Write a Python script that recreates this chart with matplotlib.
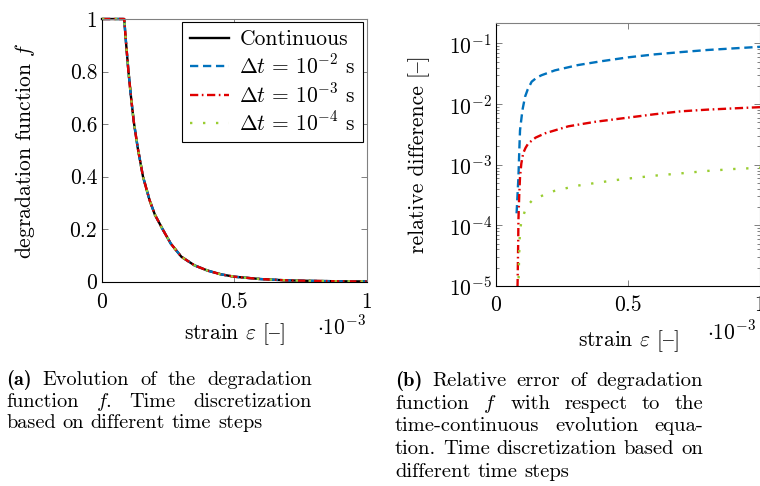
import numpy as np
import matplotlib
matplotlib.use("Agg")
import matplotlib.pyplot as plt
from matplotlib.ticker import LogLocator, NullFormatter

plt.rcParams['font.family'] = ['cmr10', 'DejaVu Serif']
plt.rcParams['mathtext.fontset'] = 'cm'
plt.rcParams['axes.formatter.use_mathtext'] = True

# strain in units of 1e-3
strain_f = [0.0, 0.084, 0.09, 0.10, 0.11, 0.12, 0.135, 0.155, 0.18, 0.20, 0.229,
            0.26, 0.30, 0.35, 0.40, 0.45, 0.50, 0.60, 0.70, 0.80, 0.90, 1.0]
f_cont = [1.0, 1.0, 0.92, 0.80, 0.70, 0.61, 0.51, 0.40, 0.31, 0.255, 0.20,
          0.145, 0.095, 0.062, 0.042, 0.028, 0.019, 0.010, 0.005, 0.003, 0.0015, 0.001]
# discrete solutions lie on top of the continuous one at this scale
f_dt2 = list(f_cont)
f_dt3 = list(f_cont)
f_dt4 = list(f_cont)

strain_dt2 = [0.078, 0.082, 0.085, 0.088, 0.091, 0.10, 0.11, 0.12, 0.135, 0.155,
              0.173, 0.223, 0.31, 0.40, 0.50, 0.60, 0.70, 0.80, 0.90, 1.0]
rel_dt2 = [1.58e-4, 3.5e-4, 6.3e-4, 1.6e-3, 3.7e-3, 7.9e-3, 1.32e-2, 1.74e-2, 2.34e-2, 2.75e-2,
           3.0e-2, 3.6e-2, 4.4e-2, 5.1e-2, 5.9e-2, 6.6e-2, 7.2e-2, 7.8e-2, 8.3e-2, 8.8e-2]

strain_dt3 = [0.080, 0.082, 0.084, 0.085, 0.088, 0.091, 0.096, 0.103, 0.112, 0.122,
              0.15, 0.186, 0.274, 0.375, 0.489, 0.60, 0.70, 0.80, 0.90, 1.0]
rel_dt3 = [5.0e-6, 1.26e-5, 5.0e-5, 1.23e-4, 3.16e-4, 6.3e-4, 1.05e-3, 1.55e-3, 1.9e-3, 2.24e-3,
           2.8e-3, 3.3e-3, 4.3e-3, 5.1e-3, 5.9e-3, 6.8e-3, 7.6e-3, 8.1e-3, 8.5e-3, 8.9e-3]

strain_dt4 = [0.083, 0.085, 0.087, 0.089, 0.091, 0.095, 0.101, 0.114, 0.141, 0.221,
              0.306, 0.39, 0.476, 0.60, 0.70, 0.80, 0.90, 1.0]
rel_dt4 = [5.0e-6, 1.0e-5, 2.4e-5, 5.0e-5, 8.3e-5, 1.07e-4, 1.32e-4, 2.0e-4, 2.7e-4, 3.7e-4,
           4.5e-4, 5.1e-4, 5.75e-4, 6.6e-4, 7.2e-4, 7.9e-4, 8.5e-4, 8.9e-4]

labels = ['Continuous', r'$\Delta t \,=\, 10^{-2}$ s', r'$\Delta t \,=\, 10^{-3}$ s',
          r'$\Delta t \,=\, 10^{-4}$ s']
xticks = [0, 0.5, 1]
xtick_labels = ['0', '0.5', '1']
yticks_f = [0, 0.2, 0.4, 0.6, 0.8, 1]
ytick_labels_f = ['0', '0.2', '0.4', '0.6', '0.8', '1']

BLUE = '#0072BD'
RED = '#E00000'
GREEN = '#9ACD32'
GRAY = '#808080'
FS = 15.5
LW = 1.7
# cmr10 keeps the en dash in the '{' slot
DASH = '{'

W, H = 760, 486
fig = plt.figure(figsize=(W / 100, H / 100), dpi=100)


def px_axes(x0, y0, x1, y1):
    return fig.add_axes([x0 / W, 1 - y1 / H, (x1 - x0) / W, (y1 - y0) / H])


def style_axes(ax):
    for s in ['left', 'bottom']:
        ax.spines[s].set_color('black')
    for s in ['top', 'right']:
        ax.spines[s].set_color(GRAY)
    for s in ax.spines.values():
        s.set_linewidth(0.8)
    ax.tick_params(which='both', direction='in', top=True, right=True, color=GRAY,
                   labelsize=FS, width=0.7)
    ax.tick_params(which='major', length=4)
    ax.tick_params(which='minor', length=2.5)


# (a) degradation function
ax1 = px_axes(102, 19, 366.5, 281.7)
style_axes(ax1)
ax1.plot(strain_f, f_cont, color='black', lw=LW, clip_on=False, label=labels[0])
ax1.plot(strain_f, f_dt2, color=BLUE, lw=LW, dashes=(3.5, 2), clip_on=False, label=labels[1])
ax1.plot(strain_f, f_dt3, color=RED, lw=LW, dashes=(3.5, 1.5, 0.7, 1.5), clip_on=False, label=labels[2])
ax1.plot(strain_f, f_dt4, color=GREEN, lw=LW, dashes=(1, 4.5), clip_on=False, label=labels[3])
ax1.set_xlim(0, 1)
ax1.set_ylim(0, 1)
ax1.set_xticks(xticks)
ax1.set_xticklabels(xtick_labels)
ax1.set_yticks(yticks_f)
ax1.set_yticklabels(ytick_labels_f)
ax1.tick_params(axis='x', pad=8)
ax1.tick_params(axis='y', pad=3.5)
ax1.set_xlabel(r'strain $\varepsilon$ [' + DASH + ']', fontsize=FS)
ax1.set_ylabel(r'degradation function $f$', fontsize=FS)
ax1.xaxis.set_label_coords(0.5, -0.15)
ax1.yaxis.set_label_coords(-0.245, 0.5)
ax1.text(1.0, -0.125, r'$\cdot 10^{-3}$', transform=ax1.transAxes, fontsize=FS,
         ha='right', va='top')
leg = ax1.legend(loc='upper right', fontsize=FS, handlelength=1.8, handletextpad=0.5,
                 labelspacing=0.22, borderpad=0.35, borderaxespad=0.15,
                 fancybox=False, framealpha=1, edgecolor='black')
leg.get_frame().set_linewidth(0.8)

# (b) relative difference
ax2 = px_axes(496, 22.7, 760, 286)
style_axes(ax2)
ax2.plot(strain_dt2, rel_dt2, color=BLUE, lw=LW, dashes=(3.5, 2))
ax2.plot(strain_dt3, rel_dt3, color=RED, lw=LW, dashes=(3.5, 1.5, 0.7, 1.5))
ax2.plot(strain_dt4, rel_dt4, color=GREEN, lw=LW, dashes=(1, 4.5))
ax2.set_yscale('log')
ax2.set_xlim(0, 1)
ax2.set_ylim(1e-5, 0.22)
ax2.yaxis.set_major_locator(LogLocator(base=10, numticks=10))
ax2.yaxis.set_minor_locator(LogLocator(base=10, subs=np.arange(2, 10), numticks=10))
ax2.yaxis.set_minor_formatter(NullFormatter())
ax2.set_xticks(xticks)
ax2.set_xticklabels(xtick_labels)
ax2.tick_params(axis='x', pad=6.5)
ax2.tick_params(axis='y', pad=3)
ax2.set_xlabel(r'strain $\varepsilon$ [' + DASH + ']', fontsize=FS)
ax2.set_ylabel('relative difference [' + DASH + ']', fontsize=FS)
ax2.xaxis.set_label_coords(0.5, -0.16)
ax2.yaxis.set_label_coords(-0.25, 0.5)
ax2.text(0.8, -0.13, r'$\cdot 10^{-3}$', transform=ax2.transAxes, fontsize=FS,
         ha='left', va='top', clip_on=False)

# captions, justified line by line
renderer = fig.canvas.get_renderer()


def caption_line(words, x0, x1, y, fs, justify=True, bold_first=False):
    texts = []
    for i, w in enumerate(words):
        fam = 'cmb10' if (bold_first and i == 0) else plt.rcParams['font.family']
        t = fig.text(0, 1 - y / H, w, fontsize=fs, va='baseline', ha='left', family=fam)
        texts.append(t)
    widths = [t.get_window_extent(renderer).width for t in texts]
    if justify and len(words) > 1:
        gap = (x1 - x0 - sum(widths)) / (len(words) - 1)
    else:
        gap = fs * 100 / 72 * 0.33
    x = x0
    for t, w in zip(texts, widths):
        t.set_x(x / W)
        x += w + gap


cap_a = [["(a)", "Evolution", "of", "the", "degradation"],
         ["function", "$f$.", "Time", "discretization"],
         ["based", "on", "different", "time", "steps"]]
cap_b = [["(b)", "Relative", "error", "of", "degradation"],
         ["function", "$f$", "with", "respect", "to", "the"],
         ["time-continuous", "evolution", "equa-"],
         ["tion.", "Time", "discretization", "based", "on"],
         ["different", "time", "steps"]]

for i, words in enumerate(cap_a):
    caption_line(words, 6, 312, 385 + 21.5 * i, 14.6,
                 justify=(i < len(cap_a) - 1), bold_first=(i == 0))
for i, words in enumerate(cap_b):
    caption_line(words, 395, 703, 386 + 22.7 * i, 14.8,
                 justify=(i < len(cap_b) - 1), bold_first=(i == 0))

fig.savefig('out.png', dpi=100)
